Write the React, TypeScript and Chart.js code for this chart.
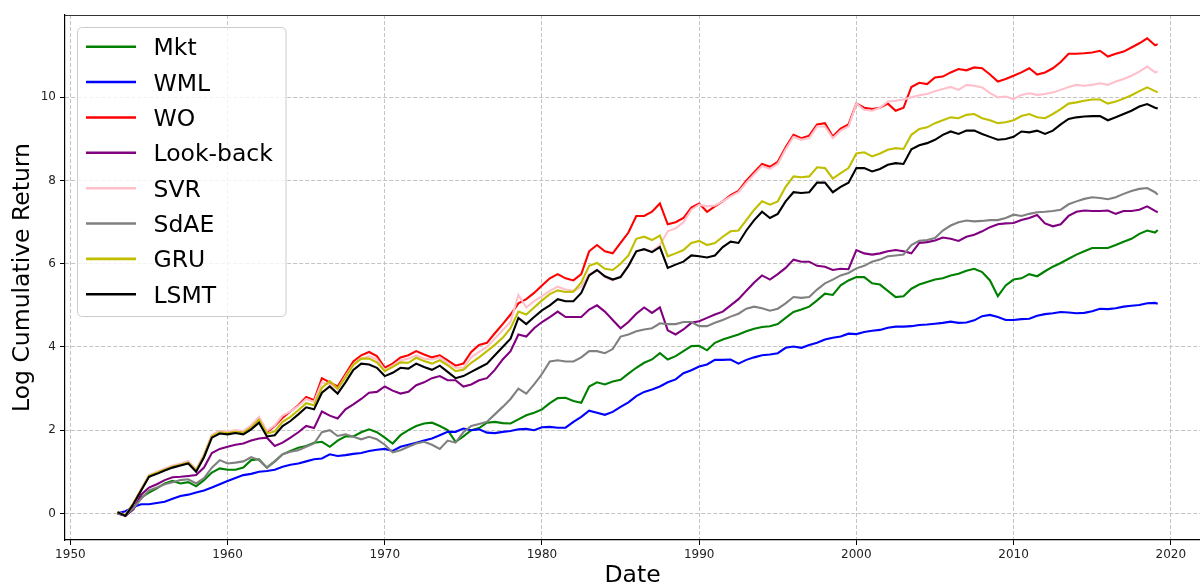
import React, { useEffect, useRef } from "react";
import { Chart, registerables } from "chart.js";

Chart.register(...registerables);

// ---------------- data ----------------
const years = [
  1953, 1953.5, 1954, 1954.5, 1955, 1955.5, 1956, 1956.5, 1957, 1957.5, 1958, 1958.5, 1959, 1959.5,
  1960, 1960.5, 1961, 1961.5, 1962, 1962.5, 1963, 1963.5, 1964, 1964.5, 1965, 1965.5, 1966, 1966.5, 1967, 1967.5, 1968, 1968.5, 1969, 1969.5,
  1970, 1970.5, 1971, 1971.5, 1972, 1972.5, 1973, 1973.5, 1974, 1974.5, 1975, 1975.5, 1976, 1976.5, 1977, 1977.5, 1978, 1978.5, 1979, 1979.5,
  1980, 1980.5, 1981, 1981.5, 1982, 1982.5, 1983, 1983.5, 1984, 1984.5, 1985, 1985.5, 1986, 1986.5, 1987, 1987.5, 1988, 1988.5, 1989, 1989.5,
  1990, 1990.5, 1991, 1991.5, 1992, 1992.5, 1993, 1993.5, 1994, 1994.5, 1995, 1995.5, 1996, 1996.5, 1997, 1997.5, 1998, 1998.5, 1999, 1999.5,
  2000, 2000.5, 2001, 2001.5, 2002, 2002.5, 2003, 2003.5, 2004, 2004.5, 2005, 2005.5, 2006, 2006.5, 2007, 2007.5, 2008, 2008.5, 2009, 2009.5,
  2010, 2010.5, 2011, 2011.5, 2012, 2012.5, 2013, 2013.5, 2014, 2014.5, 2015, 2015.5, 2016, 2016.5, 2017, 2017.5, 2018, 2018.5, 2019, 2019.17,
];

const mkt = [
  0.0, -0.05, 0.1, 0.38, 0.5, 0.6, 0.72, 0.78, 0.72, 0.75, 0.65, 0.8, 0.98, 1.08,
  1.05, 1.05, 1.1, 1.28, 1.3, 1.1, 1.25, 1.42, 1.5, 1.58, 1.62, 1.7, 1.72, 1.6, 1.75, 1.85, 1.85, 1.95, 2.02, 1.95,
  1.82, 1.68, 1.88, 2.0, 2.1, 2.16, 2.18, 2.1, 2.0, 1.72, 1.85, 2.0, 2.05, 2.18, 2.2, 2.17, 2.16, 2.26, 2.36, 2.42,
  2.5, 2.65, 2.77, 2.78, 2.7, 2.66, 3.05, 3.15, 3.1, 3.17, 3.21, 3.36, 3.5, 3.62, 3.7, 3.85, 3.7, 3.78, 3.9, 4.02,
  4.03, 3.92, 4.1, 4.18, 4.24, 4.3, 4.38, 4.44, 4.48, 4.5, 4.55, 4.7, 4.84, 4.9, 4.97, 5.12, 5.28, 5.25, 5.48, 5.6,
  5.68, 5.68, 5.53, 5.5, 5.35, 5.2, 5.22, 5.4, 5.5, 5.56, 5.62, 5.65, 5.72, 5.76, 5.83, 5.88, 5.8, 5.6, 5.22, 5.48,
  5.62, 5.65, 5.75, 5.7, 5.82, 5.93, 6.02, 6.12, 6.22, 6.3, 6.38, 6.38, 6.38, 6.45, 6.53, 6.6, 6.72, 6.8, 6.75, 6.81,
];

const wml = [
  0.0, 0.05, 0.15, 0.22, 0.22, 0.25, 0.28, 0.35, 0.42, 0.45, 0.5, 0.55, 0.62, 0.7,
  0.78, 0.85, 0.92, 0.95, 1.0, 1.02, 1.05, 1.12, 1.17, 1.2, 1.25, 1.3, 1.32, 1.42, 1.38, 1.4, 1.43, 1.45, 1.5, 1.53,
  1.55, 1.5, 1.6, 1.65, 1.7, 1.75, 1.8, 1.88, 1.96, 1.96, 2.04, 2.0, 2.02, 1.94, 1.93, 1.96, 1.98, 2.02, 2.03, 2.0,
  2.07, 2.08, 2.06, 2.06, 2.2, 2.32, 2.47, 2.42, 2.37, 2.44, 2.56, 2.67, 2.82, 2.92, 2.98, 3.05, 3.15, 3.22, 3.37, 3.44,
  3.53, 3.58, 3.69, 3.69, 3.7, 3.6, 3.69, 3.75, 3.8, 3.82, 3.85, 3.98, 4.01, 3.98, 4.05, 4.1, 4.18, 4.22, 4.25, 4.32,
  4.31, 4.36, 4.39, 4.41, 4.46, 4.49, 4.49, 4.5, 4.53, 4.54, 4.56, 4.58, 4.61, 4.58, 4.59, 4.64, 4.74, 4.77, 4.72, 4.65,
  4.65, 4.67, 4.68, 4.75, 4.79, 4.81, 4.84, 4.83, 4.81, 4.82, 4.86, 4.92, 4.91, 4.93, 4.97, 4.99, 5.01, 5.05, 5.06, 5.04,
];

const wo = [
  0.03, -0.05, 0.23, 0.57, 0.9, 0.98, 1.06, 1.13, 1.18, 1.24, 1.04, 1.4, 1.87, 1.97,
  1.95, 1.98, 1.96, 2.1, 2.28, 1.95, 2.1, 2.3, 2.45, 2.6, 2.8, 2.72, 3.25, 3.15, 3.05, 3.35, 3.65, 3.8, 3.88, 3.78,
  3.5, 3.6, 3.75, 3.8, 3.9, 3.82, 3.75, 3.8, 3.68, 3.55, 3.6, 3.88, 4.05, 4.1, 4.33, 4.55, 4.78, 5.05, 5.15, 5.3,
  5.48, 5.65, 5.75, 5.65, 5.6, 5.75, 6.3, 6.45, 6.3, 6.25, 6.5, 6.75, 7.15, 7.15, 7.25, 7.45, 6.95, 7.0, 7.1, 7.35,
  7.45, 7.25, 7.38, 7.5, 7.65, 7.75, 8.0, 8.2, 8.4, 8.33, 8.45, 8.8, 9.1, 9.02, 9.08, 9.35, 9.38, 9.06, 9.25, 9.35,
  9.85, 9.75, 9.72, 9.75, 9.85, 9.68, 9.75, 10.25, 10.35, 10.32, 10.48, 10.5, 10.6, 10.68, 10.65, 10.72, 10.7, 10.55, 10.38, 10.44,
  10.52, 10.6, 10.7, 10.55, 10.6, 10.7, 10.85, 11.05, 11.05, 11.06, 11.08, 11.12, 10.98, 11.05, 11.1, 11.2, 11.3, 11.42, 11.25, 11.28,
];

const lookBack = [
  0.0, -0.06, 0.1, 0.45, 0.62, 0.7, 0.8, 0.87, 0.88, 0.9, 0.92, 1.1, 1.45, 1.55,
  1.6, 1.65, 1.68, 1.75, 1.8, 1.82, 1.62, 1.7, 1.82, 1.95, 2.1, 2.05, 2.45, 2.35, 2.28, 2.5, 2.62, 2.75, 2.9, 2.92,
  3.05, 2.95, 2.88, 2.92, 3.08, 3.15, 3.25, 3.3, 3.2, 3.2, 3.05, 3.1, 3.2, 3.25, 3.45, 3.7, 3.9, 4.3, 4.25, 4.45,
  4.6, 4.72, 4.85, 4.72, 4.72, 4.72, 4.9, 5.0, 4.85, 4.65, 4.45, 4.6, 4.8, 4.95, 4.82, 4.95, 4.4, 4.3, 4.42, 4.58,
  4.62, 4.7, 4.78, 4.85, 5.0, 5.15, 5.35, 5.55, 5.72, 5.62, 5.75, 5.9, 6.1, 6.05, 6.05, 5.95, 5.93, 5.85, 5.88, 5.87,
  6.33, 6.25, 6.22, 6.25, 6.3, 6.33, 6.3, 6.25, 6.5, 6.52, 6.56, 6.63, 6.6, 6.55, 6.65, 6.7, 6.78, 6.88, 6.95, 6.97,
  6.98, 7.05, 7.1, 7.17, 6.97, 6.9, 6.95, 7.15, 7.25, 7.28, 7.27, 7.27, 7.28, 7.2, 7.27, 7.27, 7.3, 7.38, 7.27, 7.24,
];

const svr = [
  0.03, -0.04, 0.24, 0.58, 0.92, 1.0, 1.08, 1.15, 1.2, 1.26, 1.05, 1.42, 1.88, 1.98,
  1.97, 2.0, 1.98, 2.12, 2.32, 1.98, 2.12, 2.35, 2.45, 2.58, 2.75, 2.68, 3.15, 3.1, 2.98, 3.3, 3.58, 3.72, 3.78, 3.7,
  3.45, 3.55, 3.68, 3.72, 3.8, 3.72, 3.7, 3.75, 3.62, 3.5, 3.5, 3.75, 3.88, 4.0, 4.2, 4.4, 4.6, 5.25, 4.95, 5.1,
  5.22, 5.35, 5.45, 5.38, 5.35, 5.45, 5.75, 5.85, 5.68, 5.6, 5.7, 5.95, 6.3, 6.35, 6.3, 6.45, 6.78, 6.85, 7.0, 7.3,
  7.42, 7.38, 7.4, 7.5, 7.62, 7.72, 7.95, 8.15, 8.35, 8.28, 8.4, 8.75, 9.05, 8.98, 9.02, 9.3, 9.3, 9.02, 9.2, 9.3,
  9.85, 9.7, 9.68, 9.75, 9.9, 9.92, 9.95, 10.0, 10.05, 10.08, 10.15, 10.2, 10.25, 10.18, 10.3, 10.28, 10.24, 10.1, 10.0, 10.02,
  9.96, 10.06, 10.1, 10.06, 10.08, 10.12, 10.18, 10.25, 10.3, 10.28, 10.3, 10.34, 10.3, 10.38, 10.44, 10.52, 10.62, 10.74, 10.6, 10.62,
];

const sdae = [
  0.0, -0.05, 0.12, 0.35, 0.55, 0.62, 0.7, 0.75, 0.8, 0.82, 0.72, 0.85, 1.1, 1.28,
  1.2, 1.22, 1.25, 1.35, 1.28, 1.1, 1.25, 1.42, 1.48, 1.52, 1.6, 1.68, 1.95, 2.0, 1.86, 1.9, 1.84, 1.78, 1.84, 1.78,
  1.65, 1.47, 1.52, 1.6, 1.68, 1.72, 1.65, 1.55, 1.75, 1.7, 1.95, 2.1, 2.15, 2.2, 2.38, 2.56, 2.75, 3.0, 2.88, 3.1,
  3.35, 3.65, 3.68, 3.65, 3.65, 3.75, 3.9, 3.9, 3.85, 3.95, 4.25, 4.3, 4.38, 4.42, 4.45, 4.57, 4.55, 4.55, 4.6, 4.6,
  4.5, 4.5, 4.58, 4.65, 4.73, 4.8, 4.92, 4.97, 4.93, 4.87, 4.92, 5.05, 5.2, 5.18, 5.2, 5.38, 5.53, 5.62, 5.72, 5.78,
  5.89, 5.95, 6.05, 6.1, 6.18, 6.2, 6.22, 6.45, 6.55, 6.57, 6.62, 6.8, 6.92, 7.0, 7.04, 7.02, 7.03, 7.05, 7.05, 7.1,
  7.18, 7.15, 7.2, 7.24, 7.25, 7.27, 7.3, 7.43, 7.5, 7.56, 7.6, 7.58, 7.55, 7.6, 7.68, 7.75, 7.8, 7.82, 7.72, 7.66,
];

const gru = [
  0.03, -0.05, 0.23, 0.56, 0.9, 0.97, 1.05, 1.12, 1.17, 1.22, 1.03, 1.38, 1.85, 1.95,
  1.93, 1.96, 1.94, 2.06, 2.25, 1.92, 1.97, 2.2, 2.32, 2.48, 2.65, 2.6, 3.02, 3.18, 3.0, 3.27, 3.57, 3.72, 3.72, 3.63,
  3.42, 3.52, 3.63, 3.62, 3.74, 3.66, 3.6, 3.68, 3.56, 3.42, 3.45, 3.62, 3.75, 3.9, 4.05, 4.22, 4.45, 4.85, 4.78, 4.95,
  5.12, 5.27, 5.36, 5.32, 5.33, 5.55, 5.95, 6.02, 5.88, 5.85, 6.0, 6.2, 6.6, 6.65, 6.57, 6.68, 6.18, 6.25, 6.33, 6.5,
  6.55, 6.45, 6.5, 6.65, 6.78, 6.8, 7.05, 7.3, 7.5, 7.42, 7.5, 7.85, 8.1, 8.08, 8.1, 8.32, 8.3, 8.05, 8.18, 8.3,
  8.65, 8.68, 8.58, 8.65, 8.74, 8.78, 8.76, 9.1, 9.24, 9.28, 9.38, 9.45, 9.52, 9.5, 9.58, 9.6, 9.5, 9.45, 9.38, 9.4,
  9.45, 9.55, 9.6, 9.52, 9.5, 9.6, 9.72, 9.85, 9.88, 9.92, 9.95, 9.95, 9.85, 9.9, 9.97, 10.05, 10.15, 10.24, 10.15, 10.12,
];

const lsmt = [
  0.03, -0.06, 0.22, 0.55, 0.88, 0.95, 1.03, 1.1, 1.15, 1.2, 1.0, 1.35, 1.82, 1.92,
  1.9, 1.93, 1.9, 2.02, 2.18, 1.85, 1.88, 2.1, 2.22, 2.38, 2.55, 2.5, 2.9, 3.05, 2.88, 3.15, 3.45, 3.6, 3.58, 3.5,
  3.3, 3.38, 3.5, 3.48, 3.6, 3.52, 3.45, 3.55, 3.4, 3.25, 3.3, 3.4, 3.5, 3.6, 3.8, 4.0, 4.2, 4.7, 4.55, 4.72,
  4.88, 5.0, 5.15, 5.1, 5.1, 5.3, 5.72, 5.85, 5.7, 5.62, 5.68, 5.95, 6.3, 6.35, 6.28, 6.4, 5.9, 5.98, 6.05, 6.2,
  6.18, 6.15, 6.2, 6.4, 6.53, 6.5, 6.8, 7.05, 7.25, 7.1, 7.2, 7.5, 7.72, 7.7, 7.72, 7.95, 7.95, 7.72, 7.85, 7.95,
  8.3, 8.3, 8.22, 8.28, 8.38, 8.42, 8.4, 8.75, 8.85, 8.9, 8.98, 9.1, 9.18, 9.12, 9.2, 9.2, 9.12, 9.05, 8.98, 9.0,
  9.05, 9.18, 9.16, 9.2, 9.12, 9.2, 9.35, 9.48, 9.52, 9.54, 9.55, 9.55, 9.45, 9.52, 9.6, 9.68, 9.78, 9.84, 9.75, 9.73,
];

const seriesNames = ["Mkt", "WML", "WO", "Look-back", "SVR", "SdAE", "GRU", "LSMT"];
const seriesValues = [mkt, wml, wo, lookBack, svr, sdae, gru, lsmt];
const seriesColors = ["#008000", "#0000ff", "#ff0000", "#800080", "#ffc0cb", "#808080", "#bfbf00", "#000000"];

const xTicks = [1950, 1960, 1970, 1980, 1990, 2000, 2010, 2020];
const yTicks = [0, 2, 4, 6, 8, 10];

const xTitle = "Date";
const yTitle = "Log Cumulative Return";

// ---------------- layout ----------------
const W = 1200;
const H = 585;
const FONT = "'DejaVu Sans', 'Liberation Sans', sans-serif";

const legendPlugin = {
  id: "boxLegend",
  afterDraw(chart: any) {
    const ctx = chart.ctx as CanvasRenderingContext2D;
    const bx = 77.5, by = 27.5, bw = 208.5, bh = 289, r = 5;
    ctx.save();
    ctx.beginPath();
    ctx.moveTo(bx + r, by);
    ctx.lineTo(bx + bw - r, by);
    ctx.quadraticCurveTo(bx + bw, by, bx + bw, by + r);
    ctx.lineTo(bx + bw, by + bh - r);
    ctx.quadraticCurveTo(bx + bw, by + bh, bx + bw - r, by + bh);
    ctx.lineTo(bx + r, by + bh);
    ctx.quadraticCurveTo(bx, by + bh, bx, by + bh - r);
    ctx.lineTo(bx, by + r);
    ctx.quadraticCurveTo(bx, by, bx + r, by);
    ctx.closePath();
    ctx.fillStyle = "rgba(255,255,255,0.8)";
    ctx.fill();
    ctx.strokeStyle = "#cccccc";
    ctx.lineWidth = 1;
    ctx.stroke();

    ctx.font = `23.5px ${FONT}`;
    ctx.textAlign = "left";
    ctx.textBaseline = "alphabetic";
    seriesNames.forEach((name, i) => {
      const y = 46.7 + i * 35.37;
      ctx.beginPath();
      ctx.strokeStyle = seriesColors[i];
      ctx.lineWidth = 2.6;
      ctx.moveTo(86, y);
      ctx.lineTo(136, y);
      ctx.stroke();
      ctx.fillStyle = "#000";
      ctx.fillText(name, 153.5, y + 8.5);
    });
    ctx.restore();
  },
};

const topSpinePlugin = {
  id: "topSpine",
  afterDraw(chart: any) {
    const { ctx, chartArea } = chart;
    ctx.save();
    ctx.strokeStyle = "#333";
    ctx.lineWidth = 1.2;
    ctx.beginPath();
    ctx.moveTo(chartArea.left, chartArea.top + 0.5);
    ctx.lineTo(chartArea.right, chartArea.top + 0.5);
    ctx.stroke();
    ctx.restore();
  },
};

export default function App() {
  const canvasRef = useRef<HTMLCanvasElement | null>(null);

  useEffect(() => {
    document.body.style.margin = "0";
    const canvas = canvasRef.current;
    if (!canvas) return;

    const datasets = seriesNames.map((name, i) => ({
      label: name,
      data: years.map((yr, k) => ({ x: yr, y: seriesValues[i][k] })),
      borderColor: seriesColors[i],
      backgroundColor: seriesColors[i],
      borderWidth: 2.1,
      pointRadius: 0,
      tension: 0,
      fill: false,
      order: seriesNames.length - i,
    }));

    const chart = new Chart(canvas, {
      type: "line",
      data: { datasets },
      plugins: [topSpinePlugin, legendPlugin],
      options: {
        animation: false,
        responsive: false,
        devicePixelRatio: 1,
        parsing: false,
        normalized: true,
        layout: { padding: { top: 15, right: 0, bottom: 0, left: 0 } },
        plugins: {
          legend: { display: false },
          tooltip: { enabled: false },
          title: { display: false },
        },
        scales: {
          x: {
            type: "linear",
            min: 1949.657,
            max: 2021.86,
            afterBuildTicks: (axis: any) => {
              axis.ticks = xTicks.map((v) => ({ value: v }));
            },
            afterFit: (axis: any) => {
              axis.height = 45;
            },
            grid: {
              color: "#c4c4c4",
              lineWidth: 1,
              drawTicks: true,
              tickLength: 5,
              tickColor: "#000",
              tickWidth: 1,
            },
            border: { display: true, color: "#000", width: 1.2, dash: [4, 2] },
            ticks: {
              autoSkip: false,
              maxRotation: 0,
              padding: 3,
              color: "#222",
              font: { family: FONT, size: 12 },
              callback: (v: any) => String(v),
            },
            title: {
              display: true,
              text: xTitle,
              color: "#000",
              font: { family: FONT, size: 23.5, lineHeight: 0.77 },
              padding: { top: 0, bottom: 0 },
            },
          },
          y: {
            type: "linear",
            min: -0.64,
            max: 11.98,
            afterBuildTicks: (axis: any) => {
              axis.ticks = yTicks.map((v) => ({ value: v }));
            },
            afterFit: (axis: any) => {
              axis.width = 65;
            },
            grid: {
              color: "#c4c4c4",
              lineWidth: 1,
              drawTicks: true,
              tickLength: 5,
              tickColor: "#000",
              tickWidth: 1,
            },
            border: { display: true, color: "#000", width: 1.2, dash: [4, 2] },
            ticks: {
              autoSkip: false,
              padding: 4,
              color: "#222",
              font: { family: FONT, size: 12 },
              callback: (v: any) => String(v),
            },
            title: {
              display: true,
              text: yTitle,
              color: "#000",
              font: { family: FONT, size: 23.5, lineHeight: 0.77 },
              padding: { top: 14, bottom: 0 },
            },
          },
        },
      },
    } as any);

    return () => {
      chart.destroy();
    };
  }, []);

  return (
    <div style={{ width: W, height: H, position: "relative", overflow: "hidden" }}>
      <canvas ref={canvasRef} width={W} height={H} style={{ display: "block" }} />
    </div>
  );
}
